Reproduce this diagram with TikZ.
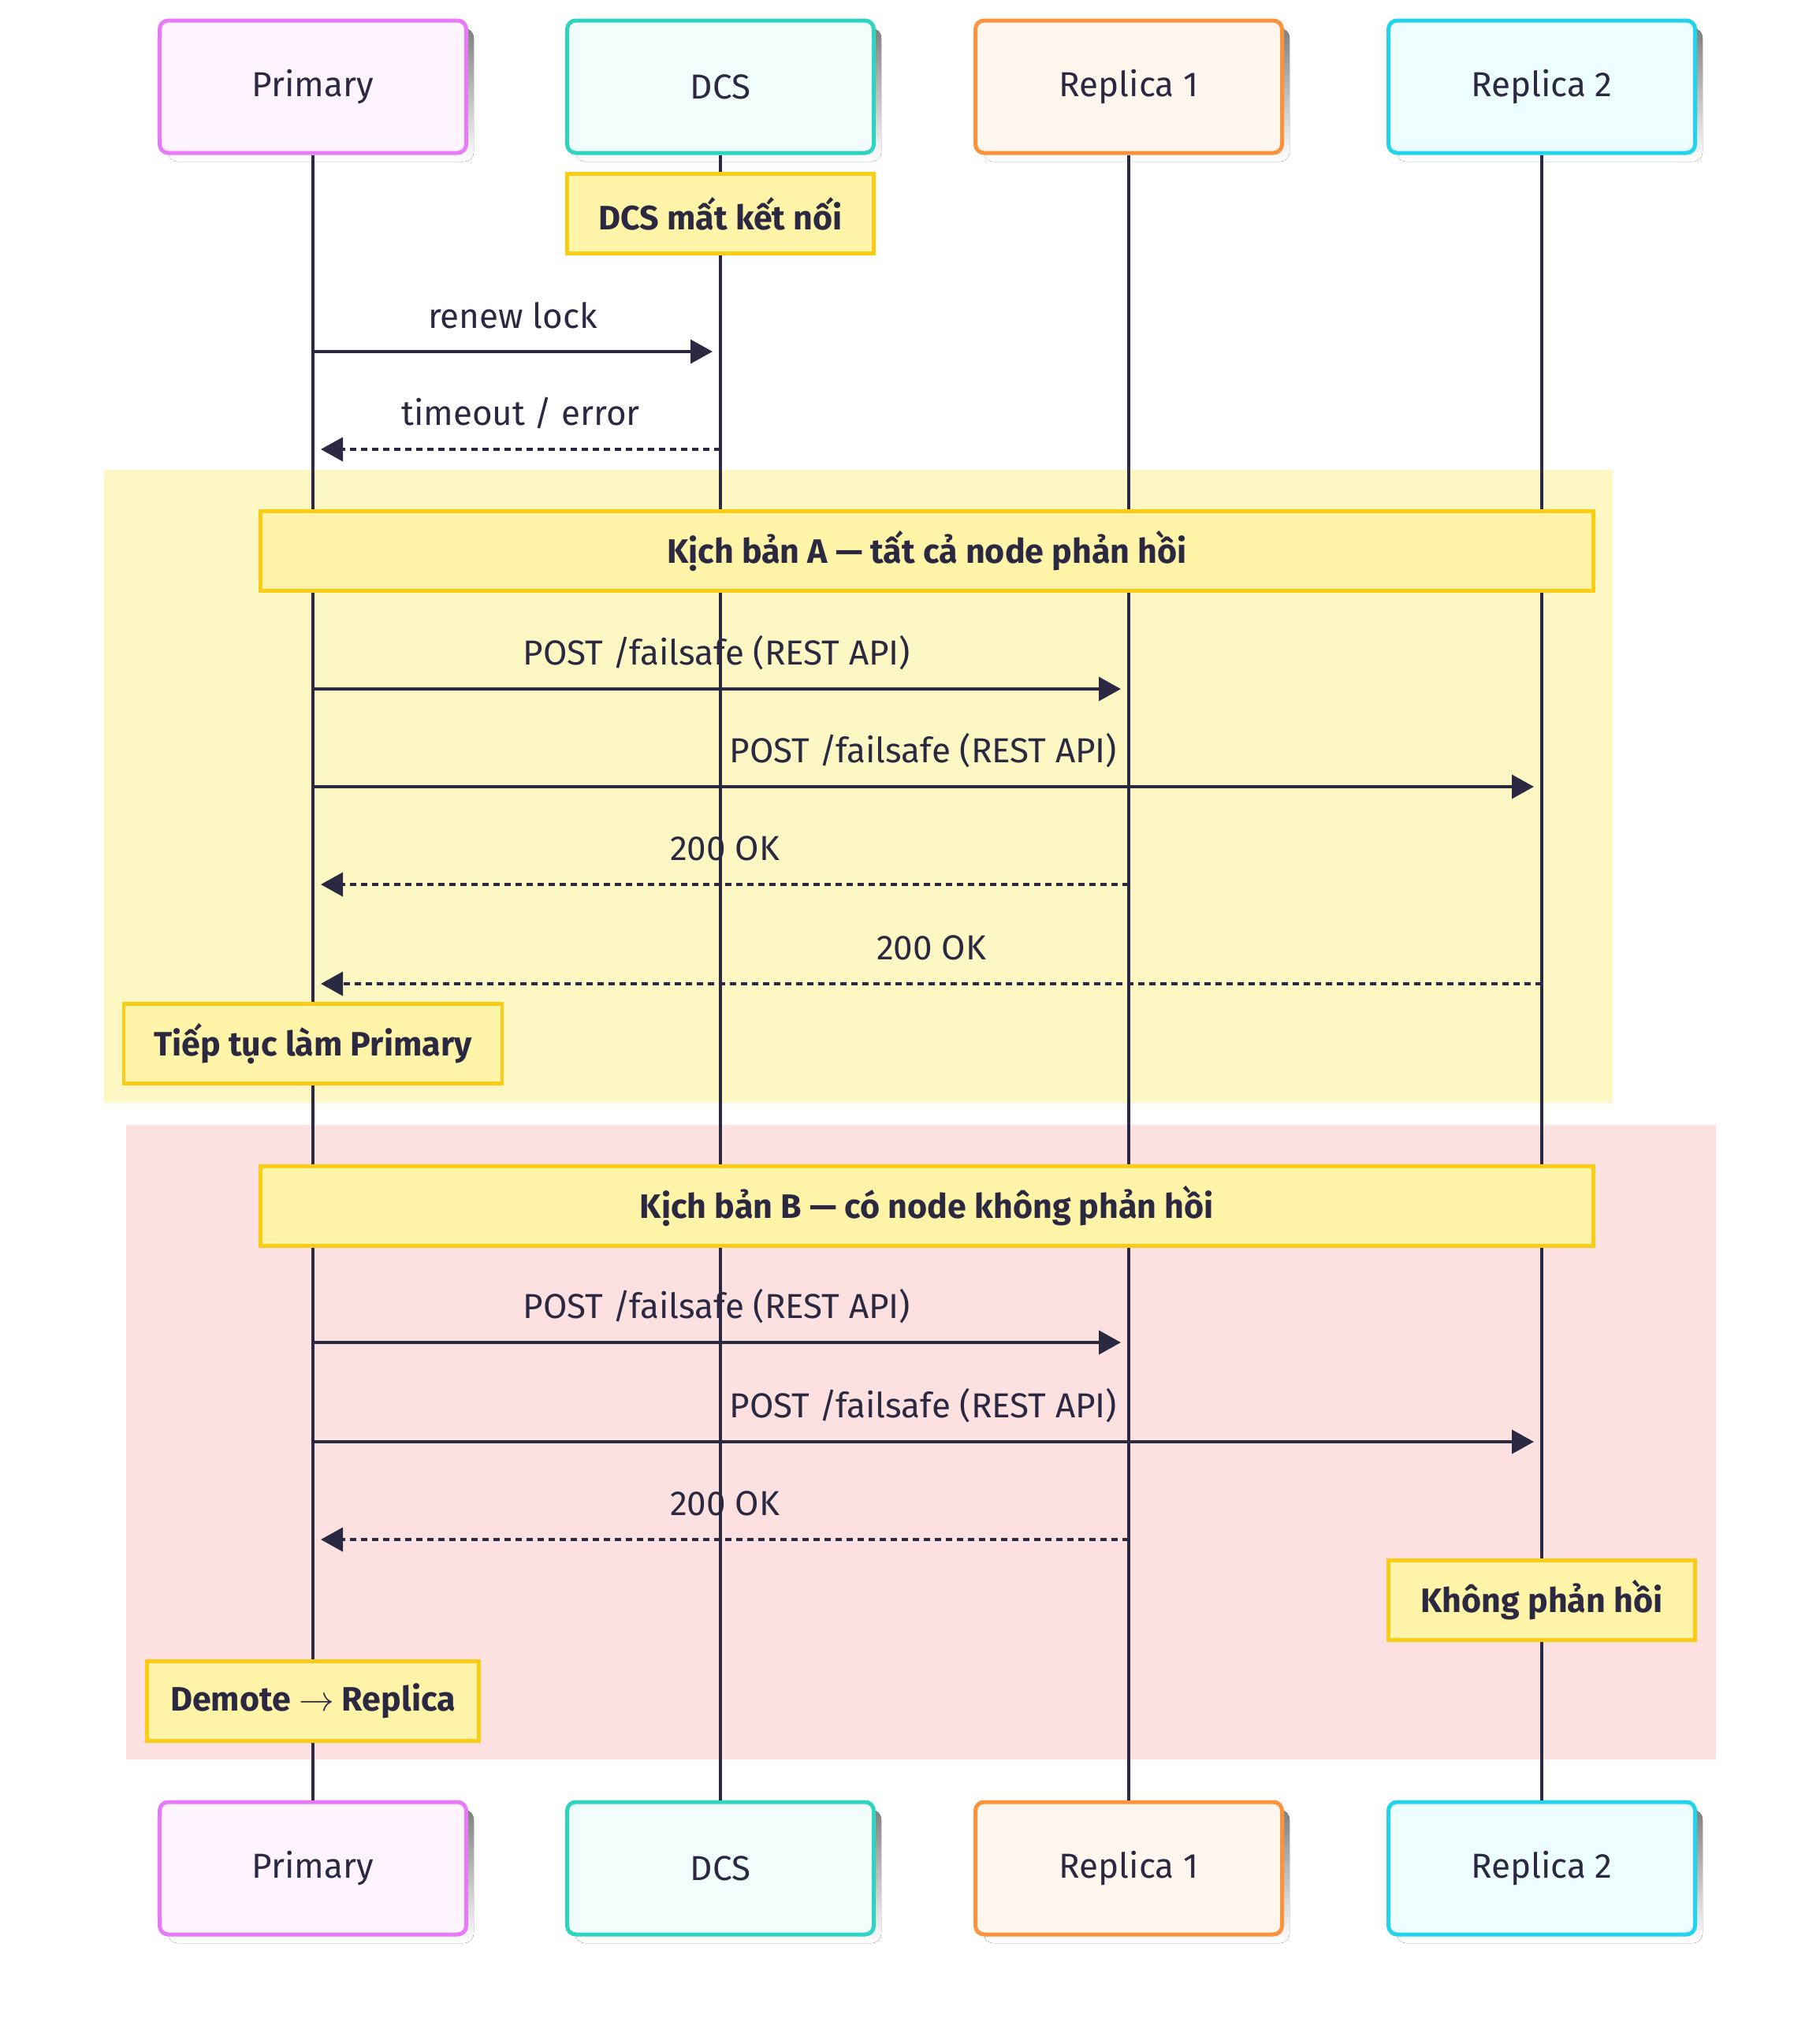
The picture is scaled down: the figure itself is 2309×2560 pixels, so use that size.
\documentclass[tikz,border=0pt]{standalone}
\usepackage{fontspec}
\usepackage{graphicx}
\setmainfont{Fira Sans}
\usetikzlibrary{arrows.meta}
\definecolor{ink}{HTML}{2B2942}
\definecolor{pfill}{HTML}{FDF4FF}\definecolor{pdraw}{HTML}{E879F9}
\definecolor{dfill}{HTML}{F0FDFA}\definecolor{ddraw}{HTML}{2DD4BF}
\definecolor{afill}{HTML}{FFF7ED}\definecolor{adraw}{HTML}{FB923C}
\definecolor{bfill}{HTML}{ECFEFF}\definecolor{bdraw}{HTML}{22D3EE}
\definecolor{notefill}{HTML}{FFF4A8}\definecolor{notedraw}{HTML}{FACC15}
\definecolor{zoneA}{HTML}{FDF8C3}\definecolor{zoneB}{HTML}{FDE1E1}
\definecolor{shade}{HTML}{EFEFEF}
\tikzset{
  actor/.style={rectangle, rounded corners=11pt, minimum width=389pt, minimum height=168pt,
    line width=5pt, text=ink, font=\fontsize{44}{52}\selectfont},
  notebox/.style={rectangle, fill=notefill, draw=notedraw, line width=4.5pt, minimum height=101pt,
    text=ink, font=\bfseries\fontsize{43}{50}\selectfont},
  life/.style={draw=ink, line width=4pt},
  msg/.style={draw=ink, line width=4pt, -{Triangle[length=28pt,width=30pt]}},
  reply/.style={msg, dash pattern=on 8pt off 6pt},
  lbl/.style={text=ink, font=\fontsize{44}{52}\selectfont, yshift=46pt}
}
\newcommand{\thinarrow}{\scalebox{1.8}{$\rightarrow$}}
\begin{document}
\begin{tikzpicture}[x=1pt,y=-1pt]
\useasboundingbox (0,0) rectangle (2309,2560);
% zones
\fill[zoneA] (132,596) rectangle (2046,1399);
\fill[zoneB] (160,1427) rectangle (2177,2232);
% shadows
\foreach \cx in {397,914,1432,1956}{
  \fill[shade, rounded corners=12pt] (\cx-194+10,26+10) rectangle (\cx+194+10,194+11);
  \fill[shade, rounded corners=12pt] (\cx-194+10,2286+10) rectangle (\cx+194+10,2454+11);
}
% participants
\node[actor, fill=pfill, draw=pdraw] (pT) at (397,110) {Primary};
\node[actor, fill=dfill, draw=ddraw] (dT) at (914,110) {DCS};
\node[actor, fill=afill, draw=adraw] (aT) at (1432,110) {Replica 1};
\node[actor, fill=bfill, draw=bdraw] (bT) at (1956,110) {Replica 2};
\node[actor, fill=pfill, draw=pdraw] (pB) at (397,2370) {Primary};
\node[actor, fill=dfill, draw=ddraw] (dB) at (914,2370) {DCS};
\node[actor, fill=afill, draw=adraw] (aB) at (1432,2370) {Replica 1};
\node[actor, fill=bfill, draw=bdraw] (bB) at (1956,2370) {Replica 2};
% lifelines
\draw[life] (pT.south) -- (pB.north);
\draw[life] (dT.south) -- (dB.north);
\draw[life] (aT.south) -- (aB.north);
\draw[life] (bT.south) -- (bB.north);
% notes
\node[notebox, minimum width=389pt] (n1) at (914,271) {DCS mất kết nối};
\node[notebox, minimum width=1691pt] (nA) at (1176,699) {Kịch bản A — tất cả node phản hồi};
\node[notebox, minimum width=480pt] (n2) at (397,1324) {Tiếp tục làm Primary};
\node[notebox, minimum width=1691pt] (nB) at (1176,1530) {Kịch bản B — có node không phản hồi};
\node[notebox, minimum width=389pt] (n3) at (1956,2030) {Không phản hồi};
\node[notebox, minimum width=421pt] (n4) at (397,2158) {Demote \thinarrow{} Replica};
% message rows
\coordinate (y1) at (0,446);
\coordinate (y2) at (0,570);
\coordinate (y3) at (0,874);
\coordinate (y4) at (0,998);
\coordinate (y5) at (0,1122);
\coordinate (y6) at (0,1248);
\coordinate (y7) at (0,1703);
\coordinate (y8) at (0,1829);
\coordinate (y9) at (0,1953);
\draw[msg] (pT |- y1) -- ([xshift=-10pt]dT |- y1) node[lbl, midway] {renew lock};
\draw[reply] (dT |- y2) -- ([xshift=10pt]pT |- y2) node[lbl, midway] {timeout / error};
\draw[msg] (pT |- y3) -- ([xshift=-10pt]aT |- y3) node[lbl, midway] {POST /failsafe (REST API)};
\draw[msg] (pT |- y4) -- ([xshift=-10pt]bT |- y4) node[lbl, midway] {POST /failsafe (REST API)};
\draw[reply] (aT |- y5) -- ([xshift=10pt]pT |- y5) node[lbl, midway] {200 OK};
\draw[reply] (bT |- y6) -- ([xshift=10pt]pT |- y6) node[lbl, midway] {200 OK};
\draw[msg] (pT |- y7) -- ([xshift=-10pt]aT |- y7) node[lbl, midway] {POST /failsafe (REST API)};
\draw[msg] (pT |- y8) -- ([xshift=-10pt]bT |- y8) node[lbl, midway] {POST /failsafe (REST API)};
\draw[reply] (aT |- y9) -- ([xshift=10pt]pT |- y9) node[lbl, midway] {200 OK};
\end{tikzpicture}
\end{document}
